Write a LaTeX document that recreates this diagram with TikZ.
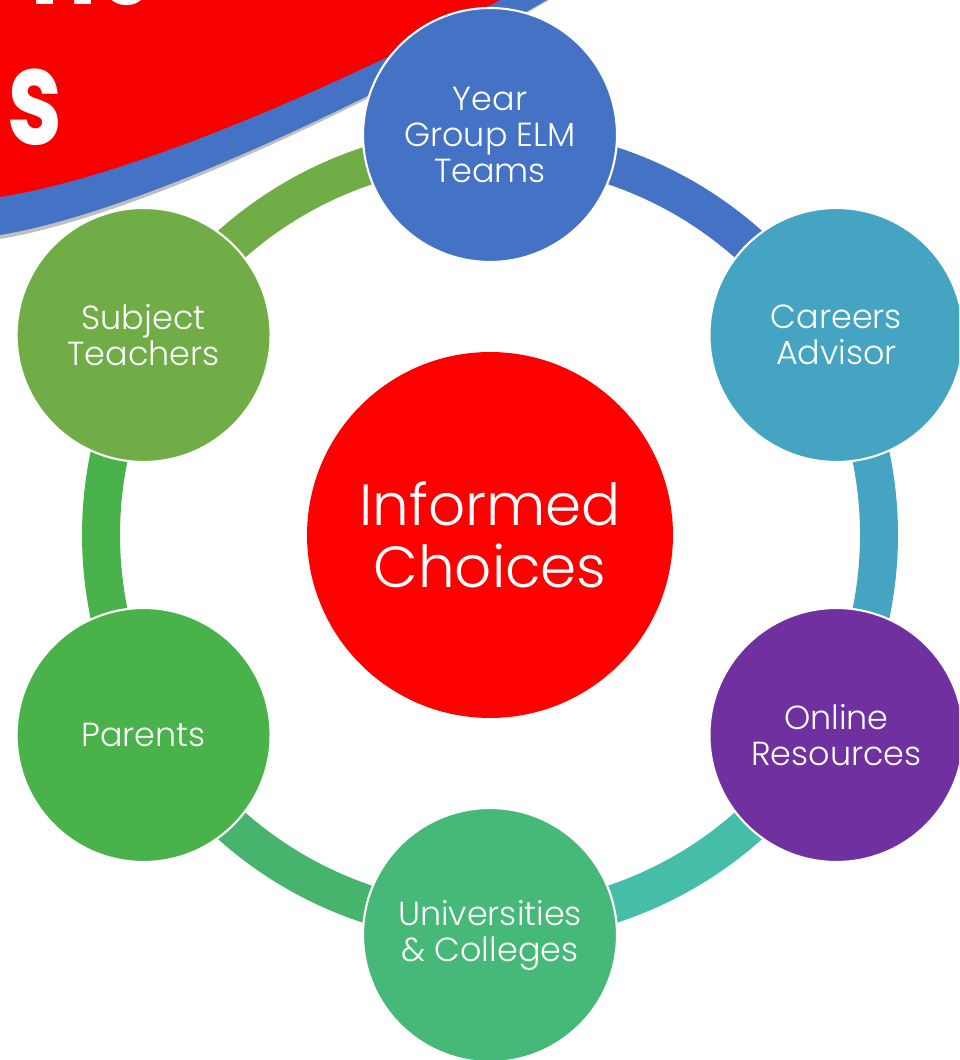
\documentclass[tikz,border=0pt]{standalone}
\usepackage{fontspec}
\setmainfont{Poppins}[UprightFont=* Light, BoldFont=* Bold]
\usepackage{tikz}
\usetikzlibrary{calc}

\definecolor{yearblue}{HTML}{4472C4}
\definecolor{careerteal}{HTML}{44A4C2}
\definecolor{onlinepurple}{HTML}{7030A0}
\definecolor{unigreen}{HTML}{46B878}
\definecolor{parentgreen}{HTML}{4AB24A}
\definecolor{subjectgreen}{HTML}{70AD47}
\definecolor{ringteal}{HTML}{45BDA8}
\definecolor{ringgreen}{HTML}{47B46E}
\definecolor{choicered}{HTML}{FF0000}
\definecolor{bannerred}{HTML}{F80000}

\tikzset{
    bub/.style={circle, minimum size=5.08cm, inner sep=0pt, draw=white, line width=1.2pt,
        text=white, align=center, font=\fontsize{19}{20.5}\selectfont},
    hub/.style={circle, minimum size=7.32cm, inner sep=0pt, fill=choicered,
        text=white, align=center, font=\fontsize{33}{35}\selectfont},
    ringseg/.style={line width=0.76cm},
    bannertext/.style={anchor=base west, inner sep=0pt, text=white, xscale=0.74,
        font=\fontsize{76}{76}\bfseries\selectfont}
}

\begin{document}
\begin{tikzpicture}[x=0.02cm, y=0.02cm]
    %FRAME
    \useasboundingbox (0,0) rectangle (959,1060);
    \clip (0,0) rectangle (959,1060);
    %KOORDINAT
    \coordinate (C) at (490,525);
    %BANNER
    \fill[black!25] (0,1060) -- (549,1060) .. controls (402,973) and (150,846) .. (0,821) -- cycle;
    \fill[yearblue] (0,1060) -- (547,1060) .. controls (400,975) and (150,850) .. (0,825) -- cycle;
    \fill[bannerred] (0,1060) -- (500,1060) .. controls (360,985) and (140,885) .. (0,863) -- cycle;
    \node[bannertext] (bannerS) at (7,915) {s};
    \node[bannertext] (bannerTop) at (30,1055) {nc};
    %RING
    \draw[ringseg, yearblue] ([shift={(C)}]90:389) arc[start angle=90, end angle=30, radius=7.78cm];
    \draw[ringseg, careerteal] ([shift={(C)}]30:389) arc[start angle=30, end angle=-30, radius=7.78cm];
    \draw[ringseg, ringteal] ([shift={(C)}]-30:389) arc[start angle=-30, end angle=-90, radius=7.78cm];
    \draw[ringseg, ringgreen] ([shift={(C)}]-90:389) arc[start angle=-90, end angle=-150, radius=7.78cm];
    \draw[ringseg, parentgreen] ([shift={(C)}]-150:389) arc[start angle=-150, end angle=-210, radius=7.78cm];
    \draw[ringseg, subjectgreen] ([shift={(C)}]150:389) arc[start angle=150, end angle=90, radius=7.78cm];
    %CIRCLES
    \node[hub] (choices) at (C) {Informed\\Choices};
    \node[bub, fill=yearblue] (year) at ($(C)+(90:400)$) {Year\\Group ELM\\Teams};
    \node[bub, fill=careerteal] (careers) at ($(C)+(30:400)$) {Careers\\Advisor};
    \node[bub, fill=onlinepurple] (online) at ($(C)+(-30:400)$) {Online\\Resources};
    \node[bub, fill=unigreen] (unis) at ($(C)+(-90:400)$) {Universities\\\& Colleges};
    \node[bub, fill=parentgreen] (parents) at ($(C)+(-150:400)$) {Parents};
    \node[bub, fill=subjectgreen] (subject) at ($(C)+(150:400)$) {Subject\\Teachers};
\end{tikzpicture}
\end{document}
